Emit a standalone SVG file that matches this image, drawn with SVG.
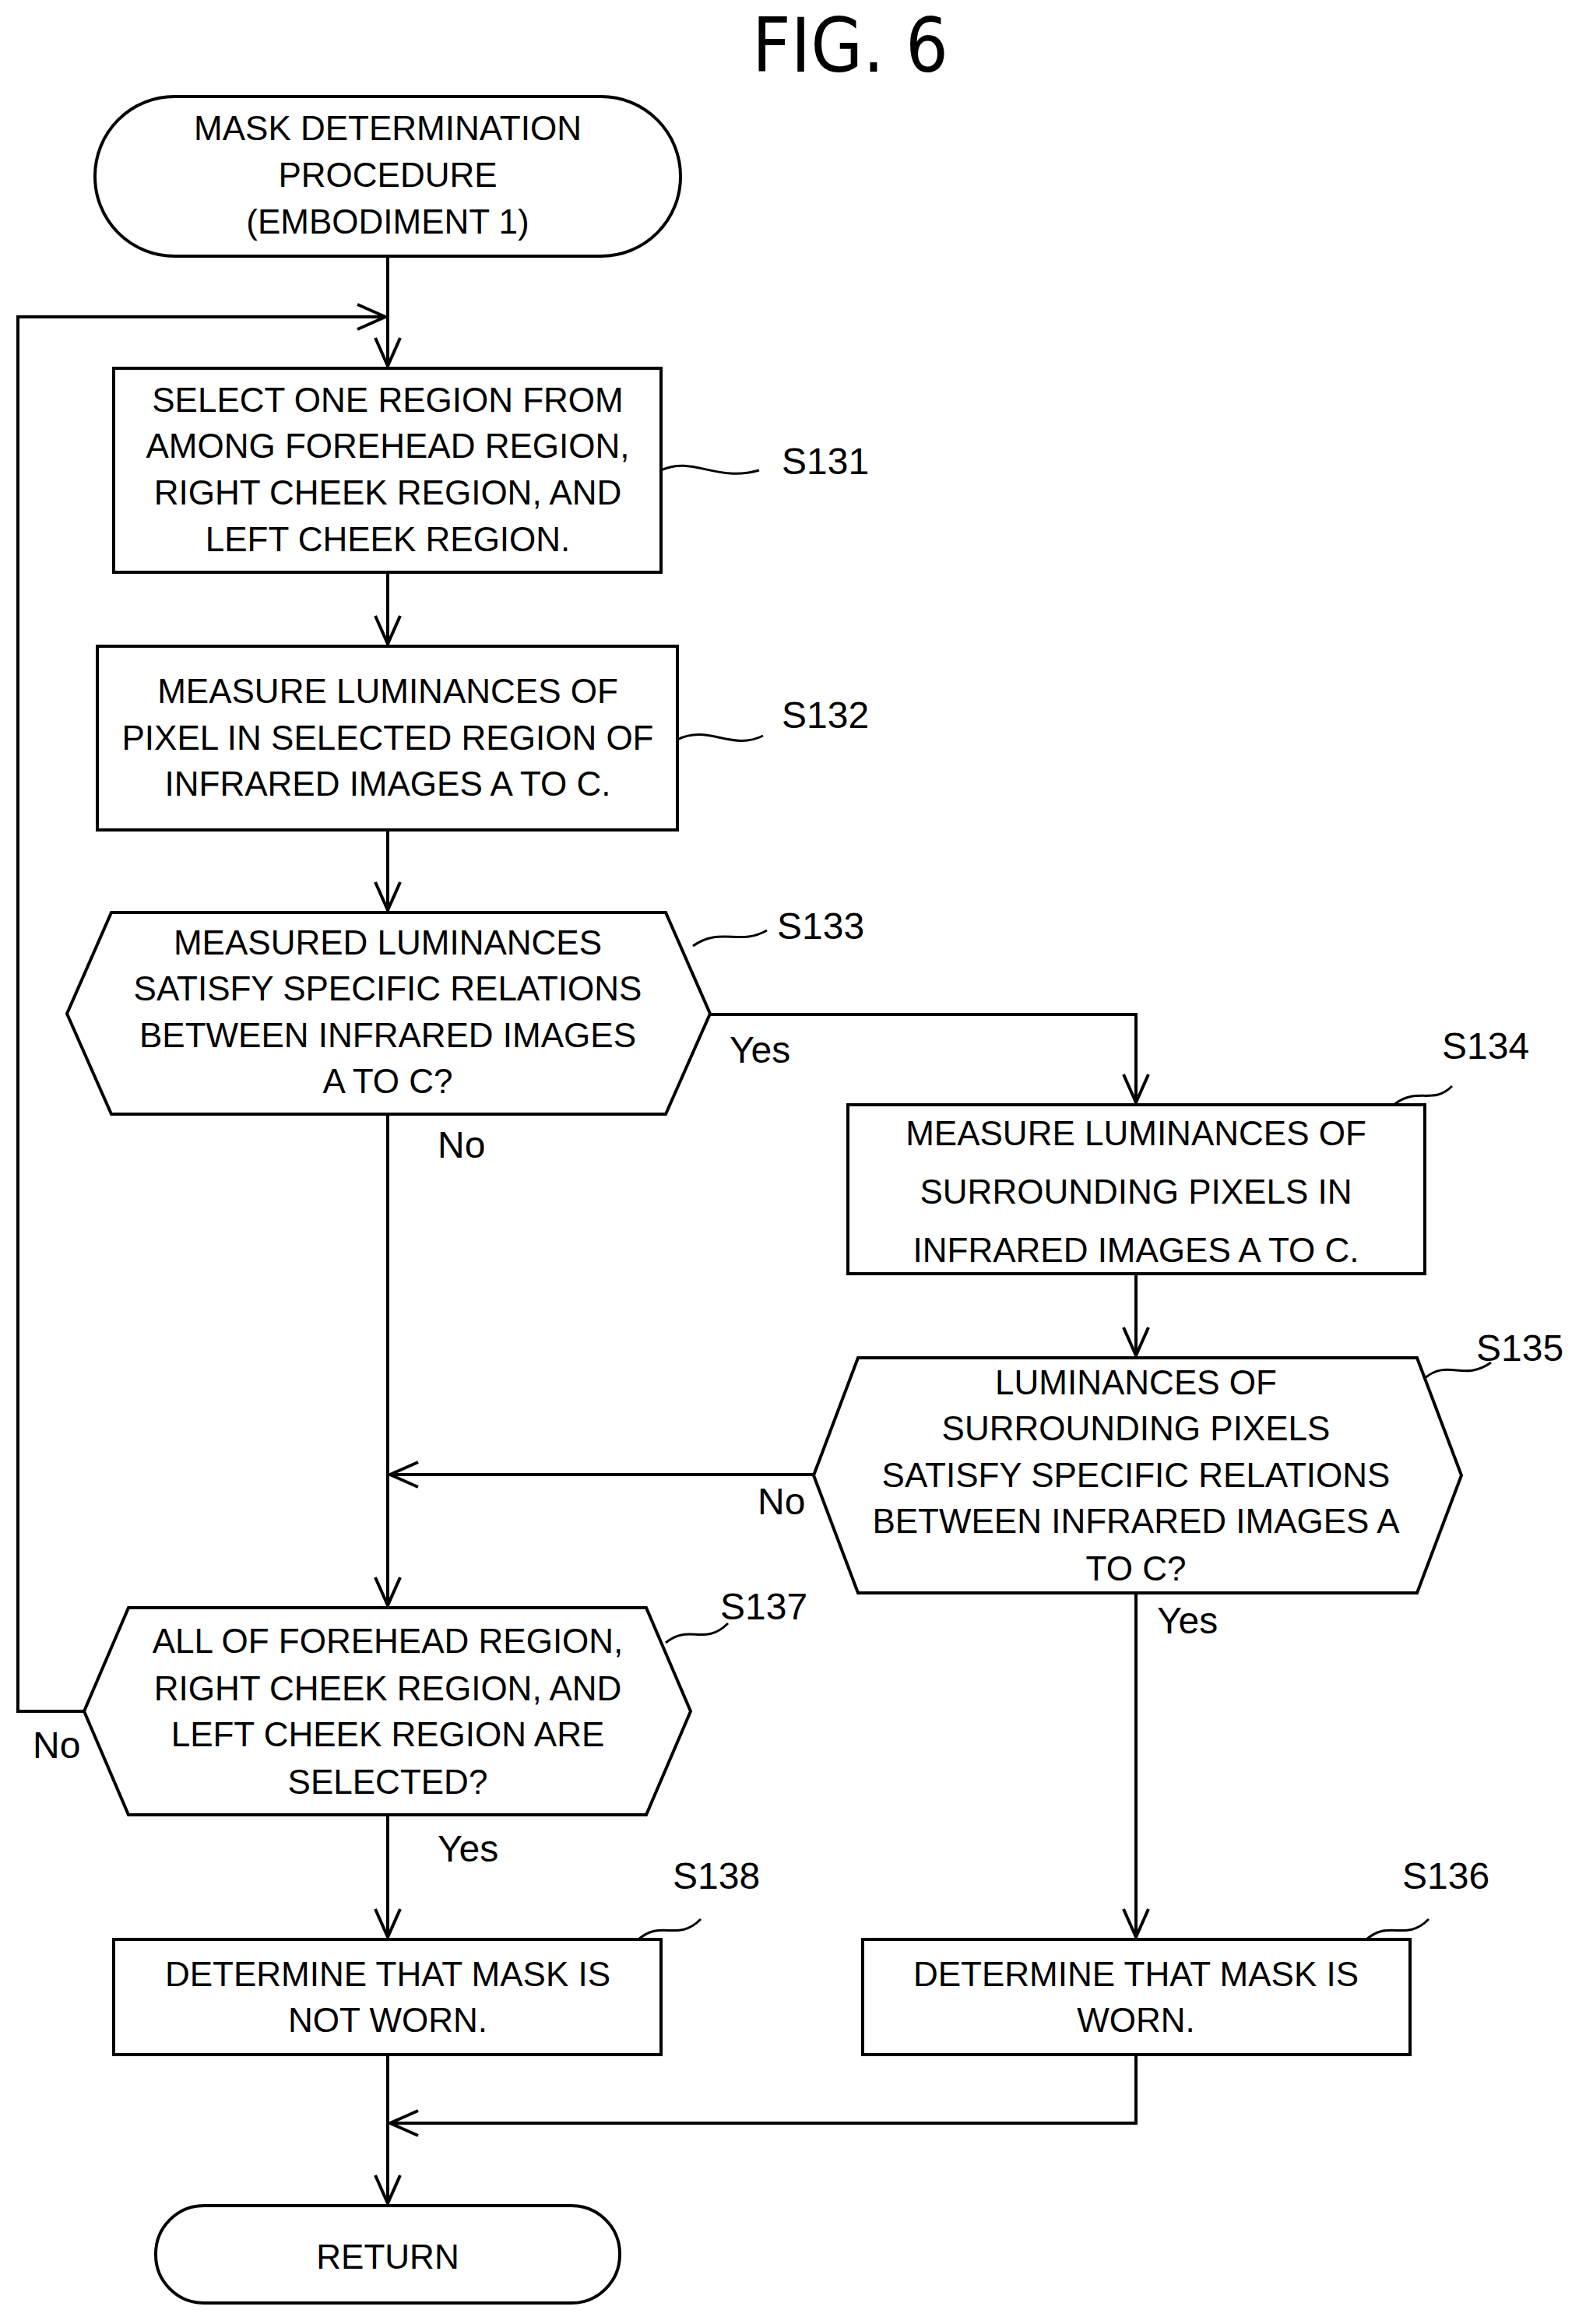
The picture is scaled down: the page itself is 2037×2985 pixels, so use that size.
<svg xmlns="http://www.w3.org/2000/svg" width="2037" height="2985" viewBox="0 0 2037 2985">
<style>
.s{fill:#fff;stroke:#000;stroke-width:4}
.l{fill:none;stroke:#000;stroke-width:4}
.q{fill:none;stroke:#000;stroke-width:3}
text{font-family:"Liberation Sans",Arial,sans-serif;font-size:44px;fill:#000;text-anchor:middle}
.lb{text-anchor:start;font-size:48px}
</style>
<defs><marker id="a" markerWidth="12" markerHeight="12" refX="11" refY="6" orient="auto" markerUnits="userSpaceOnUse"><path d="M0,0 L11,6 L0,12" fill="none" stroke="#000" stroke-width="3"/></marker>
<marker id="b" markerWidth="40" markerHeight="40" refX="38" refY="20" orient="auto" markerUnits="userSpaceOnUse"><path d="M2,4 L38,20 L2,36" fill="none" stroke="#000" stroke-width="4"/></marker></defs>
<rect width="2037" height="2985" fill="#fff"/>
<text x="1092" y="92" style="font-size:96px;font-family:'Liberation Sans Narrow','DejaVu Sans Condensed',sans-serif">FIG. 6</text>
<g id="connectors">
<path class="l" d="M498,329 V470" marker-end="url(#b)"/>
<path class="l" d="M108,2198 H23 V407 H495" marker-end="url(#b)"/>
<path class="l" d="M498,735 V827" marker-end="url(#b)"/>
<path class="l" d="M498,1066 V1169" marker-end="url(#b)"/>
<path class="l" d="M912,1303 H1459 V1416" marker-end="url(#b)"/>
<path class="l" d="M498,1431 V2062" marker-end="url(#b)"/>
<path class="l" d="M1459,1636 V1741" marker-end="url(#b)"/>
<path class="l" d="M1045,1894 H501" marker-end="url(#b)"/>
<path class="l" d="M1459,2046 V2488" marker-end="url(#b)"/>
<path class="l" d="M498,2331 V2488" marker-end="url(#b)"/>
<path class="l" d="M1459,2639 V2727 H501" marker-end="url(#b)"/>
<path class="l" d="M498,2639 V2830" marker-end="url(#b)"/>
<text x="937" y="1365" class="lb">Yes</text>
<text x="562" y="1487" class="lb">No</text>
<text x="973" y="1945" class="lb">No</text>
<text x="1486" y="2098" class="lb">Yes</text>
<text x="42" y="2258" class="lb">No</text>
<text x="562" y="2391" class="lb">Yes</text>
</g>
<g id="start"><rect class="s" x="122" y="124" width="752" height="205" rx="102"/>
<text x="498" y="180">MASK DETERMINATION</text><text x="498" y="240">PROCEDURE</text><text x="498" y="300">(EMBODIMENT 1)</text></g>
<g id="S131"><rect class="s" x="146" y="473" width="703" height="262"/>
<text x="498" y="529">SELECT ONE REGION FROM</text><text x="498" y="588">AMONG FOREHEAD REGION,</text><text x="498" y="648">RIGHT CHEEK REGION, AND</text><text x="498" y="708">LEFT CHEEK REGION.</text>
<path class="q" d="M849,604 C890,585 920,620 975,604"/><text x="1004" y="609" class="lb">S131</text></g>
<g id="S132"><rect class="s" x="125" y="830" width="745" height="236"/>
<text x="498" y="903">MEASURE LUMINANCES OF</text><text x="498" y="963">PIXEL IN SELECTED REGION OF</text><text x="498" y="1022">INFRARED IMAGES A TO C.</text>
<path class="q" d="M870,950 C910,930 940,965 980,945"/><text x="1004" y="935" class="lb">S132</text></g>
<g id="S133"><polygon class="s" points="86,1302 143,1172 855,1172 912,1302 855,1431 143,1431"/>
<text x="498" y="1226">MEASURED LUMINANCES</text><text x="498" y="1285">SATISFY SPECIFIC RELATIONS</text><text x="498" y="1345">BETWEEN INFRARED IMAGES</text><text x="498" y="1404">A TO C?</text>
<path class="q" d="M890,1215 C925,1190 950,1215 985,1195"/><text x="998" y="1206" class="lb">S133</text></g>
<g id="S134"><rect class="s" x="1089" y="1419" width="741" height="217"/>
<text x="1459" y="1471">MEASURE LUMINANCES OF</text><text x="1459" y="1546">SURROUNDING PIXELS IN</text><text x="1459" y="1621">INFRARED IMAGES A TO C.</text>
<path class="q" d="M1790,1419 C1820,1395 1840,1420 1865,1395"/><text x="1852" y="1360" class="lb">S134</text></g>
<g id="S135"><polygon class="s" points="1045,1895 1102,1744 1820,1744 1877,1895 1820,2046 1102,2046"/>
<text x="1459" y="1791">LUMINANCES OF</text><text x="1459" y="1850">SURROUNDING PIXELS</text><text x="1459" y="1910">SATISFY SPECIFIC RELATIONS</text><text x="1459" y="1969">BETWEEN INFRARED IMAGES A</text><text x="1459" y="2030">TO C?</text>
<path class="q" d="M1830,1770 C1860,1745 1880,1775 1915,1750"/><text x="1896" y="1748" class="lb">S135</text></g>
<g id="S137"><polygon class="s" points="108,2198 165,2065 830,2065 887,2198 830,2331 165,2331"/>
<text x="498" y="2123">ALL OF FOREHEAD REGION,</text><text x="498" y="2184">RIGHT CHEEK REGION, AND</text><text x="498" y="2243">LEFT CHEEK REGION ARE</text><text x="498" y="2304">SELECTED?</text>
<path class="q" d="M855,2110 C885,2085 905,2115 935,2085"/><text x="925" y="2080" class="lb">S137</text></g>
<g id="S138"><rect class="s" x="146" y="2491" width="703" height="148"/>
<text x="498" y="2551">DETERMINE THAT MASK IS</text><text x="498" y="2610">NOT WORN.</text>
<path class="q" d="M820,2491 C850,2465 870,2495 900,2465"/><text x="864" y="2426" class="lb">S138</text></g>
<g id="S136"><rect class="s" x="1108" y="2491" width="703" height="148"/>
<text x="1459" y="2551">DETERMINE THAT MASK IS</text><text x="1459" y="2610">WORN.</text>
<path class="q" d="M1755,2491 C1785,2465 1805,2495 1835,2465"/><text x="1801" y="2426" class="lb">S136</text></g>
<g id="return"><rect class="s" x="200" y="2833" width="596" height="125" rx="62"/><text x="498" y="2914">RETURN</text></g>
</svg>
